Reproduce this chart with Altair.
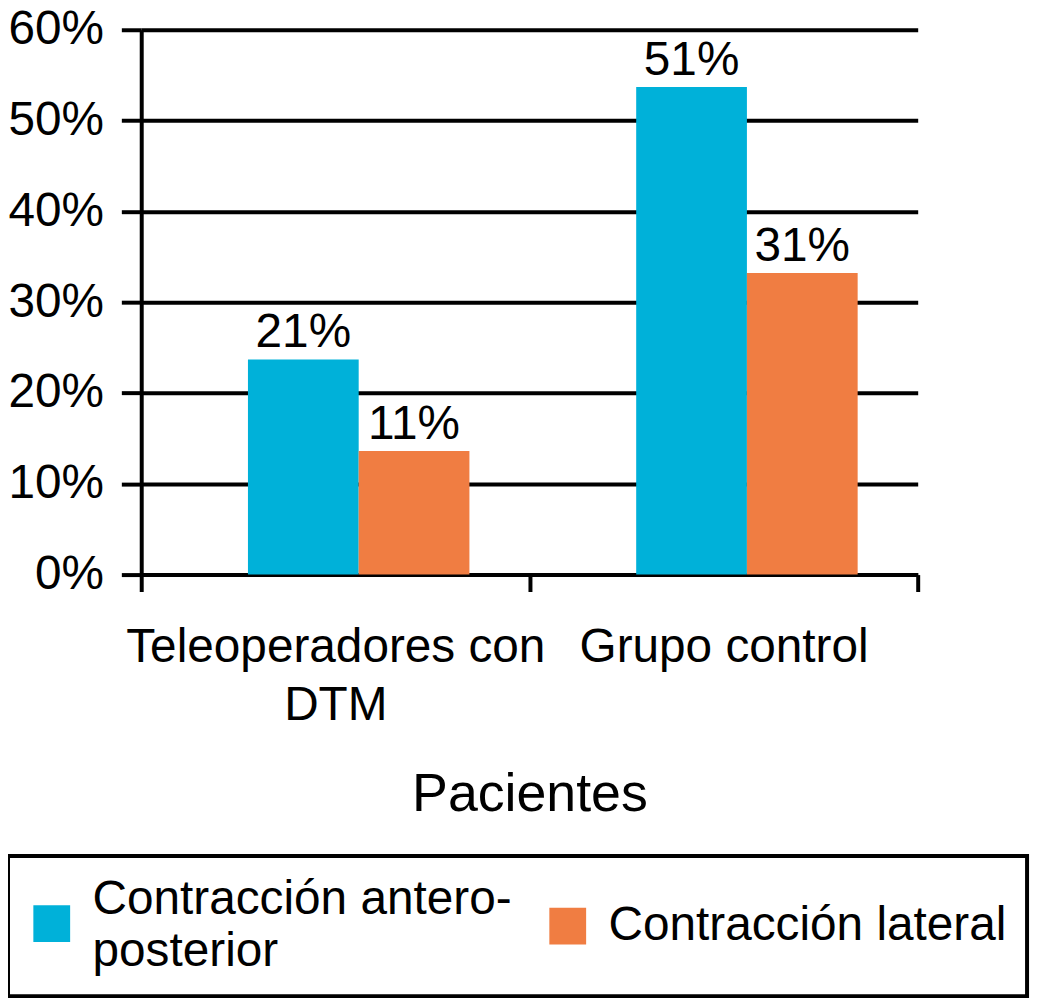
import altair as alt
import pandas as pd

# Datos
grupos = ["Teleoperadores con DTM", "Grupo control"]
series = ["Contracción antero-posterior", "Contracción lateral"]
antero = [23.7, 53.7]
lateral = [13.6, 33.2]
etiquetas_antero = ["21%", "51%"]
etiquetas_lateral = ["11%", "31%"]
colores = ["#00B1D9", "#F07D42"]
ticks_y = [0, 10, 20, 30, 40, 50, 60]
# cuadrado de la leyenda: el primero bajado para centrarlo en su etiqueta de dos líneas
simbolos = ["M-1,0.3H1V2.3H-1Z", "M-1,-1H1V1H-1Z"]

FUENTE = "Liberation Sans"

df = pd.DataFrame({
    "grupo": grupos * 2,
    "serie": [series[0]] * 2 + [series[1]] * 2,
    "valor": antero + lateral,
    "etiqueta": etiquetas_antero + etiquetas_lateral,
})

x = alt.X(
    "grupo:N",
    sort=grupos,
    title="Pacientes",
    scale=alt.Scale(paddingInner=0, paddingOuter=0),
    axis=alt.Axis(
        labelAngle=0,
        labelFontSize=48,
        labelColor="black",
        labelLimit=1000,
        labelExpr="datum.label == 'Teleoperadores con DTM' ? ['Teleoperadores con', 'DTM'] : datum.label",
        labelLineHeight=59,
        labelBaseline="alphabetic",
        labelPadding=70,
        tickSize=17,
        tickWidth=4,
        tickColor="black",
        tickBand="extent",
        domainColor="black",
        domainWidth=4,
        grid=False,
        titleFontSize=54,
        titleFontWeight="normal",
        titleColor="black",
        titleBaseline="alphabetic",
        titleY=237,
    ),
)
x_off = alt.XOffset(
    "serie:N", sort=series,
    scale=alt.Scale(paddingInner=0, paddingOuter=0.753, align=0.64),
)
y = alt.Y(
    "valor:Q",
    scale=alt.Scale(domain=[0, 60]),
    axis=alt.Axis(
        values=ticks_y,
        labelExpr="datum.value + '%'",
        labelFontSize=48,
        labelColor="black",
        labelPadding=18,
        labelBaseline="middle",
        tickSize=20,
        tickWidth=4,
        tickColor="black",
        grid=True,
        gridColor="black",
        gridWidth=4,
        gridOpacity=1,
        domainColor="black",
        domainWidth=4,
        title=None,
    ),
)

leyenda = alt.Legend(
    title=None,
    orient="none",
    legendX=-134,
    legendY=831,
    direction="horizontal",
    columns=2,
    columnPadding=32,
    padding=20,
    strokeColor="black",
    symbolSize=1369,
    symbolStrokeWidth=0,
    symbolOpacity=1,
    labelFontSize=48,
    labelColor="black",
    labelLimit=1000,
    labelOffset=17,
    labelBaseline="middle",
    labelExpr="datum.label == 'Contracción antero-posterior' ? ['Contracción antero-', 'posterior'] : datum.label",
)
color = alt.Color(
    "serie:N", sort=series,
    scale=alt.Scale(domain=series, range=colores),
    legend=leyenda,
)

barras = alt.Chart(df).mark_bar().encode(x=x, xOffset=x_off, y=y, color=color)

# capa sin marcas visibles: solo aporta la forma de los símbolos de la leyenda
formas = alt.Chart(df).mark_point(filled=True).encode(
    x=x, xOffset=x_off, y=y, color=color,
    shape=alt.Shape(
        "serie:N", sort=series,
        scale=alt.Scale(domain=series, range=simbolos),
        legend=leyenda,
    ),
).transform_filter("false")

textos = alt.Chart(df).mark_text(
    baseline="alphabetic", dy=-12, fontSize=48, color="black"
).encode(x=x, xOffset=x_off, y=y, text="etiqueta:N")

chart = (
    alt.layer(barras, formas, textos)
    .properties(
        width=781,
        height=548,
        autosize="none",
        padding={"left": 134, "top": 19, "right": 120, "bottom": 425},
    )
    .configure(font=FUENTE, style={"guide-label": {"lineHeight": 53}})
    .configure_view(stroke=None)
    .configure_legend(strokeWidth=4)
)

chart.save("out.html", embed_options={"renderer": "svg", "actions": False})
